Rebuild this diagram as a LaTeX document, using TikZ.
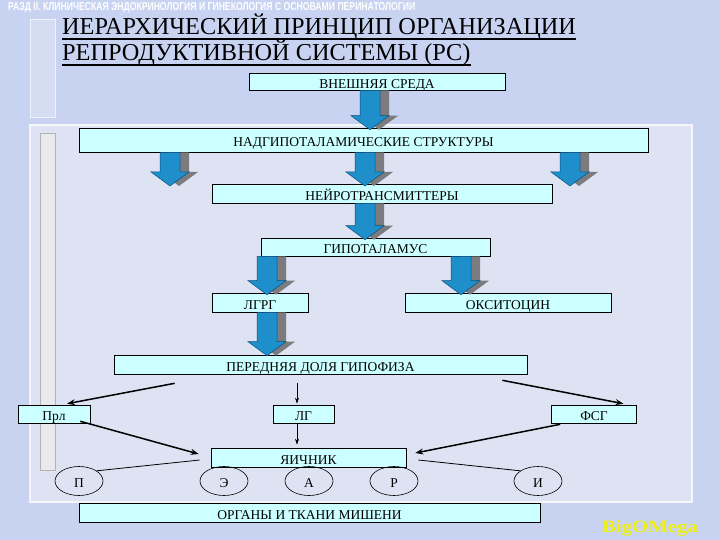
\documentclass[tikz,border=0pt]{standalone}
\usepackage{fontspec}
\setmainfont{Liberation Serif}
\newfontfamily\sansbold{Liberation Sans}
\usetikzlibrary{arrows.meta,calc,shapes.geometric}
\definecolor{bg}{HTML}{C7D3F1}
\definecolor{panel}{HTML}{DDE3F2}
\definecolor{boxfill}{HTML}{CCFFFF}
\definecolor{ablue}{HTML}{1E8FCB}
\definecolor{ablueedge}{HTML}{0B4F7A}
\definecolor{agray}{HTML}{7C7C80}
\definecolor{barcol}{HTML}{E9E9EE}
\newcommand{\lowtext}[1]{\raisebox{-2pt}[0.7em][0pt]{#1}}
\newcommand{\blkarrow}[3]{%
  \fill[agray] let \p1=(#2), \p2=(#3) in
    (#1pt-1pt,\y1) -- (#1pt+19pt,\y1) -- (#1pt+19pt,\y2+14pt) -- (#1pt+28pt,\y2+14pt)
    -- (#1pt+9pt,\y2) -- (#1pt-10pt,\y2+14pt) -- (#1pt-1pt,\y2+14pt) -- cycle;
  \filldraw[fill=ablue, draw=ablueedge, line width=0.5pt] let \p1=(#2), \p2=(#3) in
    (#1pt-10pt,\y1) -- (#1pt+10pt,\y1) -- (#1pt+10pt,\y2+14pt) -- (#1pt+19pt,\y2+14pt)
    -- (#1pt,\y2) -- (#1pt-19pt,\y2+14pt) -- (#1pt-10pt,\y2+14pt) -- cycle;
}
\begin{document}
\begin{tikzpicture}[x=1pt,y=-1pt,
  box/.style={draw=black, line width=0.6pt, fill=boxfill, inner sep=0pt,
    font=\fontsize{13.5}{14}\selectfont},
  oval/.style={ellipse, draw=black, line width=0.6pt, inner sep=0pt,
    minimum width=48pt, minimum height=29pt, font=\fontsize{13.5}{14}\selectfont},
  thickarrow/.style={line width=1.5pt, -{Stealth[length=8pt,width=6pt]}},
  thinarrow/.style={line width=0.6pt, -{Stealth[length=6pt,width=4pt]}},
  plainline/.style={line width=0.8pt}]
\fill[bg] (0,0) rectangle (720,540);
\useasboundingbox (0,0) rectangle (720,540);
% panels
\filldraw[fill=panel!60!bg, draw=white!70!bg, line width=1pt] (30,20) rectangle (55,118);
\filldraw[fill=panel, draw=white!80!bg, line width=1.2pt] (30,125) rectangle (692,502);
\filldraw[fill=barcol, draw=gray!60, line width=0.4pt] (40,133) rectangle (55,470);
% header text
\node[anchor=west, inner sep=0pt, text=white] (hdr) at (8,7.5)
  {\resizebox{407pt}{8pt}{\sansbold\bfseries РАЗД II. КЛИНИЧЕСКАЯ ЭНДОКРИНОЛОГИЯ И ГИНЕКОЛОГИЯ С ОСНОВАМИ ПЕРИНАТОЛОГИИ}};
% title
\node[anchor=base west, inner sep=0pt, font=\fontsize{24.3}{26}\selectfont] (t1) at (62,35) {ИЕРАРХИЧЕСКИЙ ПРИНЦИП ОРГАНИЗАЦИИ};
\node[anchor=base west, inner sep=0pt, font=\fontsize{24.3}{26}\selectfont] (t2) at (62,61) {РЕПРОДУКТИВНОЙ СИСТЕМЫ (РС)};
\draw[line width=1.4pt] ($(t1.base west)+(0,4)$) -- ($(t1.base east)+(0,4)$);
\draw[line width=1.4pt] ($(t2.base west)+(0,4)$) -- ($(t2.base east)+(0,4)$);
% boxes
\node[box, minimum width=256pt, minimum height=17pt] (ext) at (377,81.5) {\lowtext{ВНЕШНЯЯ СРЕДА}};
\node[box, minimum width=569pt, minimum height=24pt] (nad) at (363.5,140) {\lowtext{НАДГИПОТАЛАМИЧЕСКИЕ СТРУКТУРЫ}};
\node[box, minimum width=340pt, minimum height=19pt] (neuro) at (382,193.5) {\lowtext{НЕЙРОТРАНСМИТТЕРЫ}};
\node[box, minimum width=229pt, minimum height=18pt] (hypo) at (375.5,247) {\lowtext{ГИПОТАЛАМУС}};
\node[box, minimum width=96pt, minimum height=19pt] (lgrg) at (260,302.5) {\lowtext{ЛГРГ}};
\node[box, minimum width=206pt, minimum height=19pt] (oxy) at (508,302.5) {\lowtext{ОКСИТОЦИН}};
\node[box, minimum width=413pt, minimum height=19pt] (ant) at (320.5,364.5) {\lowtext{ПЕРЕДНЯЯ ДОЛЯ ГИПОФИЗА}};
\node[box, minimum width=72pt, minimum height=18pt] (prl) at (54,414) {\lowtext{Прл}};
\node[box, minimum width=61pt, minimum height=18pt] (lg) at (303.5,414) {\lowtext{ЛГ}};
\node[box, minimum width=85pt, minimum height=18pt] (fsg) at (594,414) {\lowtext{ФСГ}};
\node[box, minimum width=195pt, minimum height=19pt] (ovary) at (308.5,457.5) {\lowtext{ЯИЧНИК}};
\node[box, minimum width=461pt, minimum height=19pt] (organs) at (309.5,512.5) {\lowtext{ОРГАНЫ И ТКАНИ МИШЕНИ}};
% ovals
\node[oval] (P) at (79,481) {\lowtext{П}};
\node[oval] (E) at (224,481) {\lowtext{Э}};
\node[oval] (A) at (309,481) {\lowtext{А}};
\node[oval] (R) at (394,481) {\lowtext{Р}};
\node[oval] (I) at (538,481) {\lowtext{И}};
% free ends of the three upper arrows
\coordinate (n1) at (170,186);
\coordinate (n2) at (365,186);
\coordinate (n3) at (570,186);
% block arrows
\blkarrow{370}{ext.south}{$(nad.north)+(0,2)$}
\blkarrow{170}{nad.south}{n1}
\blkarrow{365}{nad.south}{n2}
\blkarrow{570}{nad.south}{n3}
\blkarrow{365}{neuro.south}{$(hypo.north)+(0,2)$}
\blkarrow{267}{hypo.south}{$(lgrg.north)+(0,2)$}
\blkarrow{461}{hypo.south}{$(oxy.north)+(0,2)$}
\blkarrow{267}{lgrg.south}{$(ant.north)+(0,1)$}
% thin / thick arrows
\draw[thickarrow] ($(ant.south west)+(61,9)$) -- ($(prl.north)+(13,-1)$);
\draw[thickarrow] ($(ant.south east)+(-25,6)$) -- ($(fsg.north)+(29.5,-1)$);
\draw[thinarrow] ($(ant.south)+(-23.5,9)$) -- ($(lg.north)+(-6.5,-1)$);
\draw[thinarrow] ($(lg.south)+(-6.5,1)$) -- ($(ovary.north)+(-11.5,-3)$);
\draw[thickarrow] ($(prl.south east)+(-10,-2)$) -- ($(ovary.west)+(-12,-3.5)$);
\draw[thickarrow] ($(fsg.south west)+(9,1)$) -- ($(ovary.east)+(9,-4.5)$);
\draw[plainline] (P.30) -- ($(ovary.west)+(-11,2.5)$);
\draw[plainline] (I.150) -- ($(ovary.east)+(12,2.5)$);
% logo
\node[anchor=center, inner sep=0pt, text={rgb,255:red,240;green,240;blue,20}] (logo) at (650,528)
  {\resizebox{96pt}{12pt}{\bfseries BigOMega}};
\end{tikzpicture}
\end{document}
